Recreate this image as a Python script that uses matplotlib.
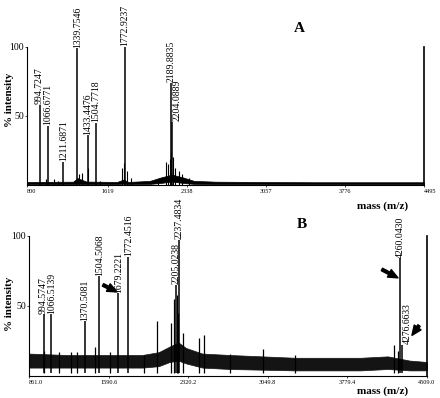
import matplotlib.pyplot as plt

plt.rcParams['font.family'] = ['Liberation Serif', 'DejaVu Serif']

# ---- panel A : labelled peaks (m/z, % intensity)
a_mz = [994.7247, 1066.6771, 1211.6871, 1339.7546, 1433.4476,
        1504.7718, 1772.9237, 2189.8835, 2204.0889]
a_int = [58, 43, 17, 99, 36, 45, 100, 74, 46]

# small unlabelled peaks in A
a_minor_mz = [1050, 1124, 1160, 1353, 1378, 1440, 1546, 1745, 1760,
              1790, 1830, 2075, 2142, 2160, 2178, 2195, 2212, 2230,
              2260, 2290, 2353]
a_minor_int = [4, 4, 3, 8, 9, 12, 3, 12, 16, 10, 5, 4, 17, 15, 19, 24,
               20, 12, 10, 8, 5]

# baseline envelope in A
a_env_x = [880, 1300, 1340, 1420, 1700, 1760, 1800, 2000, 2100, 2200,
           2300, 2400, 2600, 3000, 3500, 4000, 4495]
a_env_lo = [0.6, 0.6, 0.8, 0.6, 0.6, 1.0, 0.6, 0.8, 1.5, 2.5, 1.5, 0.8,
            0.6, 0.6, 0.5, 0.5, 0.5]
a_env_hi = [2.2, 2.4, 5.0, 2.5, 2.2, 4.0, 2.2, 3.0, 5.5, 7.5, 5.5, 3.0,
            2.4, 2.2, 2.0, 2.0, 2.0]

a_ticks = [880, 1619, 2338, 3057, 3776, 4495]
a_ticklabels = ['800', '1619', '2338', '3057', '3776', '4495']

# ---- panel B
b_mz = [994.5747, 1066.5139, 1370.5081, 1504.5068, 1679.2221,
        1772.4516, 2205.0238, 2237.4834, 4260.0430, 4276.6633]
b_int = [44, 44, 39, 71, 59, 85, 65, 97, 84, 22]

b_minor_mz = [1000, 1136, 1246, 1300, 1466, 1600, 1915, 2034, 2162, 2190,
              2215, 2225, 2272, 2419, 2465, 2700, 3006, 3300, 4207, 4240]
b_minor_int = [18, 17, 17, 17, 21, 17, 15, 39, 38, 55, 58, 45, 31, 27,
               29, 16, 19, 15, 22, 18]

b_env_x = [861, 1200, 1600, 1900, 2050, 2150, 2230, 2300, 2450, 2700,
           3000, 3300, 3600, 3900, 4150, 4350, 4509]
b_env_lo = [6, 6, 6, 6, 7, 10, 11, 9, 6, 5, 4.5, 4, 4, 4, 5, 4, 4]
b_env_hi = [16, 15, 15, 15, 17, 21, 24, 20, 16, 15, 14, 13, 13, 13, 14,
            11, 10]

b_ticks = [861.0, 1590.6, 2320.2, 3049.8, 3779.4, 4509.0]

# arrows in B: (tail x, tail y, head x, head y)
b_arrows = [(1539, 65, 1668, 60),
            (4096, 76, 4243, 70),
            (4436, 36, 4371, 29)]

W, H = 440, 398
fig = plt.figure(figsize=(4.4, 3.98), dpi=100)

axA = fig.add_axes([27 / W, 1 - 185 / H, 397 / W, 183 / H])
axB = fig.add_axes([29 / W, 1 - 376 / H, 398 / W, 171 / H])


def style_axis(ax, xlim, ylim, ticks, labels, last_ha):
    ax.set_xlim(*xlim)
    ax.set_ylim(*ylim)
    ax.spines['top'].set_visible(False)
    ax.spines['left'].set_bounds(0, 100)
    ax.spines['right'].set_bounds(0, 100)
    ax.spines['right'].set_linewidth(1.2)
    ax.spines['bottom'].set_linewidth(0.8)
    ax.set_yticks([50, 100])
    ax.set_yticklabels(['50', '100'], fontsize=7)
    ax.set_xticks(ticks)
    ax.set_xticklabels(labels, fontsize=4.5)
    ax.tick_params(axis='x', length=1.5, pad=1.5, width=0.5)
    ax.tick_params(axis='y', length=1.5, pad=0.5, width=0.5)
    tl = ax.get_xticklabels()
    tl[0].set_ha('left')
    tl[-1].set_ha(last_ha)


# panel A
axA.fill_between(a_env_x, a_env_lo, a_env_hi, color='black', lw=0.5)
axA.vlines(a_minor_mz, 0, a_minor_int, color='black', lw=0.8)
axA.vlines(a_mz, 0, a_int, color='black', lw=1.1)
for mz, h in zip(a_mz, a_int):
    dx = 3.5 if mz > 2200 else 0
    axA.annotate(f'{mz:.4f}', xy=(mz, h), xytext=(dx, 0.5),
                 textcoords='offset points', rotation=90, ha='center',
                 va='bottom', fontsize=7)
style_axis(axA, (880, 4495), (0, 132.6), a_ticks, a_ticklabels, 'left')

# panel B
axB.fill_between(b_env_x, b_env_lo, b_env_hi, color='0.08', lw=0.5)
axB.vlines(b_minor_mz, 2, b_minor_int, color='black', lw=0.9)
axB.vlines(b_mz, 2, b_int, color='black', lw=1.1)
for mz, h in zip(b_mz, b_int):
    dx = 4 if mz > 4270 else 0
    axB.annotate(f'{mz:.4f}', xy=(mz, h), xytext=(dx, 0.5),
                 textcoords='offset points', rotation=90, ha='center',
                 va='bottom', fontsize=7)
for x0, y0, x1, y1 in b_arrows:
    axB.annotate('', xy=(x1, y1), xytext=(x0, y0),
                 arrowprops=dict(arrowstyle='simple,head_width=0.6,head_length=0.7,tail_width=0.2',
                                 color='black', shrinkA=0, shrinkB=0))
style_axis(axB, (861, 4509), (0, 122), b_ticks,
           [f'{t:.1f}' for t in b_ticks], 'center')

# labels
fig.text(10 / W, 1 - 100 / H, '% intensity', rotation=90, ha='center',
         va='center', fontsize=8, fontweight='bold')
fig.text(10 / W, 1 - 304 / H, '% intensity', rotation=90, ha='center',
         va='center', fontsize=8, fontweight='bold')
fig.text(383 / W, 1 - 206 / H, 'mass (m/z)', ha='center', va='center',
         fontsize=8, fontweight='bold')
fig.text(383 / W, 1 - 391 / H, 'mass (m/z)', ha='center', va='center',
         fontsize=8, fontweight='bold')
fig.text(299 / W, 1 - 28 / H, 'A', ha='center', va='center',
         fontsize=11, fontweight='bold')
fig.text(302 / W, 1 - 225 / H, 'B', ha='center', va='center',
         fontsize=11, fontweight='bold')

fig.savefig('out.png', dpi=100)
